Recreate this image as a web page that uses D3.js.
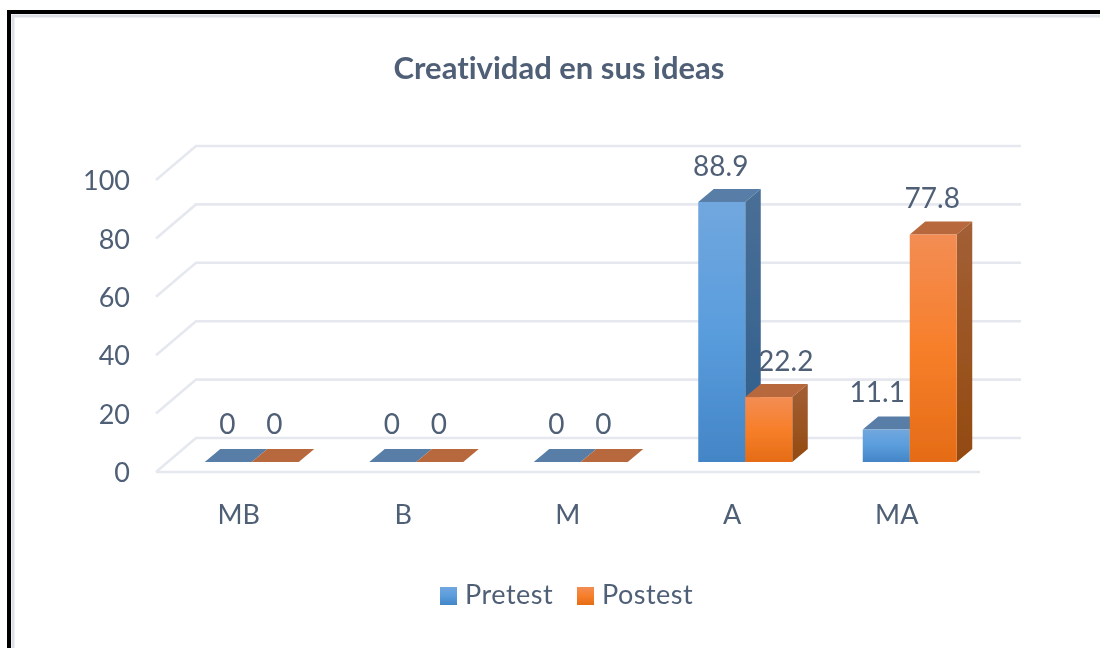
<!DOCTYPE html>
<html>
<head>
<meta charset="utf-8">
<script src="https://cdn.jsdelivr.net/npm/d3@7"></script>
<style>
  html, body { margin: 0; padding: 0; background: #fff; }
  svg { display: block; }
  text { font-family: Lato, "Open Sans", sans-serif; fill: #4f5f76; font-variant-ligatures: none; }
</style>
</head>
<body>
<div id="chart"></div>
<script>
// Data
const categories = ["MB", "B", "M", "A", "MA"];
const seriesNames = ["Pretest", "Postest"];
const pretest = [0, 0, 0, 88.9, 11.1];
const postest = [0, 0, 0, 22.2, 77.8];
const yTicks = [0, 20, 40, 60, 80, 100];
const chartTitle = "Creatividad en sus ideas";

const width = 1100, height = 648;

// 3D look: the floor runs from the front edge to the back wall
const depth = {dx: 40, dy: -34};   // floor front -> wall
const barDepth = {dx: 15.5, dy: -13};

const svg = d3.select("#chart").append("svg")
    .attr("width", width)
    .attr("height", height);

const defs = svg.append("defs");

// Source picture is a bit soft
defs.append("filter").attr("id", "soft")
    .attr("x", "-5%").attr("y", "-5%").attr("width", "110%").attr("height", "110%")
  .append("feGaussianBlur").attr("stdDeviation", 0.5);

function addGradient(id, stops) {
    const g = defs.append("linearGradient").attr("id", id)
        .attr("x1", 0).attr("y1", 0).attr("x2", 0).attr("y2", 1);
    stops.forEach(s => g.append("stop").attr("offset", s[0]).attr("stop-color", s[1]));
}
addGradient("blueFront", [[0, "#71a7de"], [0.5, "#5a9ddd"], [1, "#4385c6"]]);
addGradient("blueSide", [[0, "#4a6f96"], [1, "#2d5d8c"]]);
addGradient("orangeFront", [[0, "#f38d54"], [0.5, "#f77f2a"], [1, "#e56c16"]]);
addGradient("orangeSide", [[0, "#a35f36"], [1, "#934a10"]]);

const colors = [
    {front: "url(#blueFront)", side: "url(#blueSide)", top: "#587ea8"},
    {front: "url(#orangeFront)", side: "url(#orangeSide)", top: "#b8683c"}
];

// Frame around the pasted picture
const frame = svg.append("g").attr("filter", "url(#soft)");
frame.append("path").attr("d", "M13,648V16H1100").attr("fill", "none")
    .attr("stroke", "#dbe0e7").attr("stroke-width", 3);
frame.append("path").attr("d", "M9,648V12H1100").attr("fill", "none")
    .attr("stroke", "#000").attr("stroke-width", 4);

const plot = svg.append("g").attr("filter", "url(#soft)");

// Scales: one for the front edge (axis labels), one for the bar plane
const yFront = d3.scaleLinear().domain([0, 100]).range([472, 180]);
const yBar = d3.scaleLinear().domain([0, 100]).range([462, 169.5]);
const x0 = d3.scaleBand().domain(categories).range([169.5, 992]);
const x1 = d3.scaleBand().domain(seriesNames).range([0, x0.bandwidth()])
    .paddingInner(0).paddingOuter(0.75);

// Gridlines: slanted piece on the floor side plus the run along the wall
const xFrontLeft = 156, xWallRight = 1021, xFloorRight = 980;
plot.selectAll(".grid")
    .data(yTicks)
  .enter().append("path")
    .attr("class", "grid")
    .attr("fill", "none")
    .attr("stroke", "#e5e8ef")
    .attr("stroke-width", 2.6)
    .attr("d", d => {
        const p = d3.path();
        p.moveTo(xFrontLeft, yFront(d));
        p.lineTo(xFrontLeft + depth.dx, yFront(d) + depth.dy);
        p.lineTo(xWallRight, yFront(d) + depth.dy);
        return p.toString();
    });
plot.append("line")
    .attr("x1", xFrontLeft).attr("x2", xFloorRight)
    .attr("y1", yFront(0)).attr("y2", yFront(0))
    .attr("stroke", "#e5e8ef").attr("stroke-width", 2.6);

// Bars
const rows = categories.map((c, i) => ({
    cat: c,
    values: [
        {name: seriesNames[0], idx: 0, v: pretest[i]},
        {name: seriesNames[1], idx: 1, v: postest[i]}
    ]
}));

const groups = plot.selectAll(".cat")
    .data(rows)
  .enter().append("g")
    .attr("class", "cat")
    .attr("transform", d => "translate(" + x0(d.cat) + ",0)");

const bars = groups.selectAll(".bar")
    .data(d => d.values)
  .enter().append("g")
    .attr("class", "bar");

// Top face
bars.append("path")
    .attr("fill", d => colors[d.idx].top)
    .attr("d", d => {
        const l = x1(d.name), r = l + x1.bandwidth(), t = yBar(d.v);
        return "M" + l + "," + t + "L" + (l + barDepth.dx) + "," + (t + barDepth.dy) +
            "L" + (r + barDepth.dx) + "," + (t + barDepth.dy) + "L" + r + "," + t + "Z";
    });

// Side face
bars.append("path")
    .attr("fill", d => colors[d.idx].side)
    .attr("d", d => {
        const r = x1(d.name) + x1.bandwidth(), t = yBar(d.v), b = yBar(0);
        return "M" + r + "," + t + "L" + (r + barDepth.dx) + "," + (t + barDepth.dy) +
            "L" + (r + barDepth.dx) + "," + (b + barDepth.dy) + "L" + r + "," + b + "Z";
    });

// Front face
bars.append("rect")
    .attr("fill", d => colors[d.idx].front)
    .attr("x", d => x1(d.name))
    .attr("y", d => yBar(d.v))
    .attr("width", x1.bandwidth())
    .attr("height", d => yBar(0) - yBar(d.v));

const textLayer = svg.append("g").attr("filter", "url(#soft)");

// Value labels, some were moved by hand in the original
const labelNudge = {"A|Postest": 17, "MA|Pretest": -9};
rows.forEach(row => {
    row.values.forEach(d => {
        const nudge = labelNudge[row.cat + "|" + d.name] || -1;
        textLayer.append("text")
            .attr("x", x0(row.cat) + x1(d.name) + x1.bandwidth() / 2 + nudge)
            .attr("y", yBar(d.v) - (d.v === 0 || d.v === 11.1 ? 28 : 26))
            .attr("text-anchor", "middle")
            .style("font-size", "28px")
            .text(d.v);
    });
});

// Axes
const yAxis = textLayer.append("g")
    .attr("transform", "translate(130,0)")
    .call(d3.axisLeft(yFront).tickValues(yTicks).tickSize(0).tickPadding(0));
yAxis.select(".domain").remove();
yAxis.selectAll("text").style("font-size", "27px").style("font-family", null).attr("dy", "0.36em");

const xAxis = textLayer.append("g")
    .attr("transform", "translate(-13,500)")
    .call(d3.axisBottom(x0).tickSize(0).tickPadding(0));
xAxis.select(".domain").remove();
xAxis.selectAll("text").style("font-size", "27px").style("font-family", null).attr("dy", "0.9em");

// Title
textLayer.append("text")
    .attr("x", 559)
    .attr("y", 79)
    .attr("text-anchor", "middle")
    .style("font-size", "31px")
    .style("font-weight", "bold")
    .text(chartTitle);

// Legend
const legendPos = [{box: 440, txt: 465}, {box: 577, txt: 602}];
const legend = textLayer.selectAll(".legend")
    .data(seriesNames)
  .enter().append("g")
    .attr("class", "legend");
legend.append("rect")
    .attr("x", (d, i) => legendPos[i].box)
    .attr("y", 587)
    .attr("width", 17)
    .attr("height", 18)
    .attr("fill", (d, i) => colors[i].front);
legend.append("text")
    .attr("x", (d, i) => legendPos[i].txt)
    .attr("y", 604)
    .style("font-size", "27px")
    .style("letter-spacing", "0.5px")
    .text(d => d);
</script>
</body>
</html>
